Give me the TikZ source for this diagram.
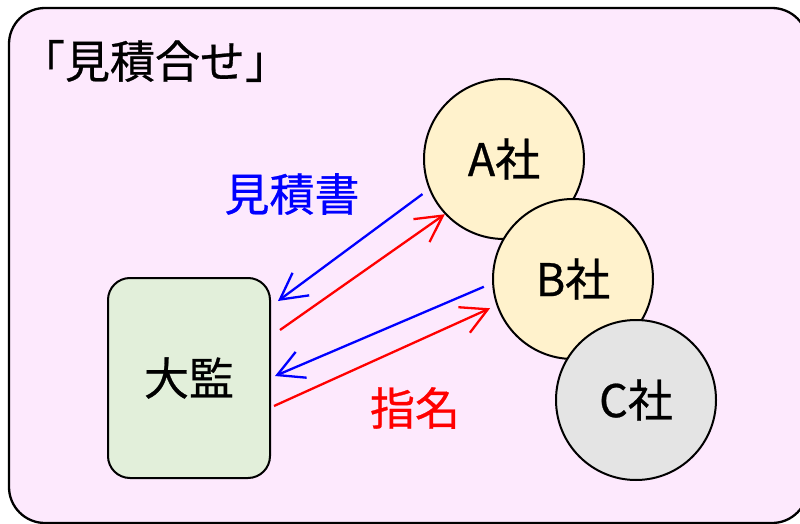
\documentclass[tikz,border=0pt]{standalone}
\usepackage{fontspec}
\setmainfont[FakeBold=0.6,AutoFakeBold=0.6]{Noto Sans CJK JP}
\usepackage{xcolor}
\usetikzlibrary{arrows.meta,calc}
\definecolor{framepink}{RGB}{253,233,253}
\definecolor{firmgold}{RGB}{255,242,204}
\definecolor{bossgreen}{RGB}{226,239,218}
\definecolor{firmgray}{RGB}{228,228,228}
\tikzset{
	bigtext/.style={font=\fontsize{45}{45}\selectfont\bfseries},
	firm/.style={
			draw, line width=2pt, circle, minimum size=160pt, inner sep=0pt, bigtext
		},
	chief/.style={
			draw, line width=2pt, rectangle, rounded corners=22pt,
			minimum width=162pt, minimum height=200pt, fill=bossgreen, bigtext
		},
	quotearr/.style={
			blue, line width=2.3pt, -{Straight Barb[length=26pt,width=28pt]}
		},
	pickarr/.style={
			red, line width=2.3pt, -{Straight Barb[length=26pt,width=28pt]}
		}
}

\begin{document}
\begin{tikzpicture}[x=1pt,y=-1pt]
        \useasboundingbox (0,0) rectangle (800,524);

        % Outer frame
        \begin{scope}
            \clip (0,0) rectangle (800,524);
            \draw[line width=2.3pt, fill=framepink, rounded corners=36pt] (9,8) rectangle (808,523);
        \end{scope}
        \node[bigtext] (title) at (155,61) {「見積合せ」};

        % The three firms
        \node[firm, fill=firmgold] (compA) at (504,159) {A社};
        \node[firm, fill=firmgold] (compB) at (573,279) {B社};
        \node[firm, fill=firmgray] (compC) at (636,400) {C社};

        % The chief
        \node[chief] (boss) at (189,378) {大監};

        % Quotes and nomination
        \draw[quotearr, shorten <=8pt] (compA.202) -- ($(boss.east)+(7,-77)$);
        \draw[pickarr] ($(boss.east)+(9,-48)$) -- (compA.223);
        \draw[quotearr, shorten <=9pt] (compB.183) -- ($(boss.east)+(4,-2)$);
        \draw[pickarr, shorten >=7pt] ($(boss.east)+(3,28)$) -- (compB.199);

        % Labels
        \node[bigtext, blue] (quoteLbl) at (292,194) {見積書};
        \node[bigtext, red] (pickLbl) at (415,408) {指名};

    \end{tikzpicture}
\end{document}
